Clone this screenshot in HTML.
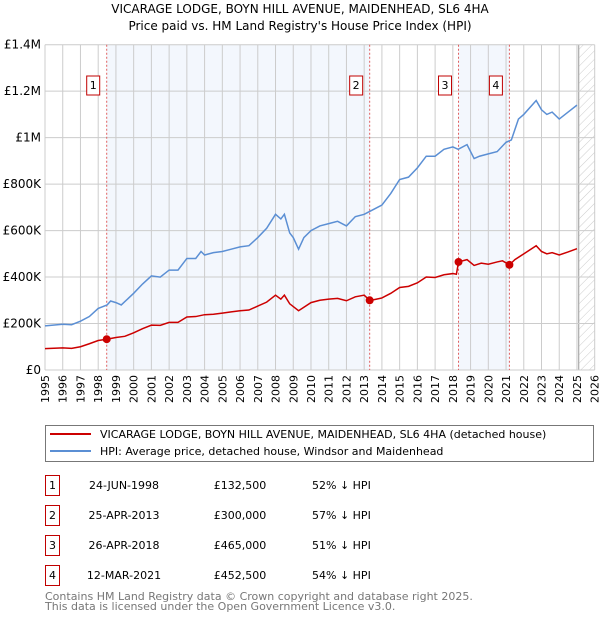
<!DOCTYPE html>
<html><head><meta charset="utf-8"><style>
body{margin:0;background:#fff;font-family:"DejaVu Sans","Liberation Sans",sans-serif;}
svg text{font-family:"DejaVu Sans","Liberation Sans",sans-serif;}
</style></head><body>
<svg id="chart" width="600" height="620" xmlns="http://www.w3.org/2000/svg">
<defs><pattern id="hatch" width="6" height="6" patternUnits="userSpaceOnUse" patternTransform="rotate(45)"><line x1="0" y1="0" x2="0" y2="6" stroke="#ccc" stroke-width="1"/></pattern></defs>
<text x="300" y="13" text-anchor="middle" font-size="12">VICARAGE LODGE, BOYN HILL AVENUE, MAIDENHEAD, SL6 4HA</text>
<text x="300" y="30" text-anchor="middle" font-size="12">Price paid vs. HM Land Registry's House Price Index (HPI)</text>
<g id="plot"></g>
<g>
<rect x="45.5" y="425.5" width="548" height="36" fill="#fff" stroke="#777"/>
<line x1="50" y1="434" x2="91" y2="434" stroke="#cc0000" stroke-width="2"/>
<text x="100" y="438" font-size="11">VICARAGE LODGE, BOYN HILL AVENUE, MAIDENHEAD, SL6 4HA (detached house)</text>
<line x1="50" y1="451" x2="91" y2="451" stroke="#5b8fd4" stroke-width="2"/>
<text x="100" y="455" font-size="11">HPI: Average price, detached house, Windsor and Maidenhead</text>
</g>
<g id="table"></g>
<text x="45" y="600" font-size="11" fill="#777">Contains HM Land Registry data © Crown copyright and database right 2025.</text>
<text x="45" y="610" font-size="11" fill="#777">This data is licensed under the Open Government Licence v3.0.</text>
</svg>
<script>
const hpiYears=[1995,1996,1996.5,1997,1997.5,1998,1998.5,1998.7,1999,1999.3,2000,2000.5,2001,2001.5,2002,2002.5,2003,2003.5,2003.8,2004,2004.5,2005,2005.5,2006,2006.5,2007,2007.5,2008,2008.3,2008.5,2008.8,2009,2009.3,2009.6,2010,2010.5,2011,2011.5,2012,2012.5,2013,2013.5,2014,2014.5,2015,2015.5,2016,2016.5,2017,2017.5,2018,2018.3,2018.8,2019.2,2019.5,2020,2020.5,2021,2021.3,2021.7,2022,2022.7,2023,2023.3,2023.6,2024,2024.5,2025];
const hpiValues=[190,197,195,210,230,265,280,297,290,280,330,370,405,400,430,430,480,480,510,495,505,510,520,530,535,570,610,670,650,670,590,570,520,570,600,620,630,640,620,660,670,690,710,760,820,830,870,920,920,950,960,950,970,910,920,930,940,980,990,1080,1100,1160,1120,1100,1110,1080,1110,1140];
const redYears=[1995,1996,1996.5,1997,1997.5,1998,1998.48,1999,1999.5,2000,2000.5,2001,2001.5,2002,2002.5,2003,2003.5,2004,2004.5,2005,2005.5,2006,2006.5,2007,2007.5,2008,2008.3,2008.5,2008.8,2009.3,2009.6,2010,2010.5,2011,2011.5,2012,2012.5,2013,2013.31,2013.5,2014,2014.5,2015,2015.5,2016,2016.5,2017,2017.5,2018,2018.2,2018.32,2018.8,2019.2,2019.6,2020,2020.5,2020.8,2021.19,2021.5,2022,2022.7,2023,2023.3,2023.6,2024,2024.5,2025];
const redValues=[92,95,93,100,113,127,132.5,140,145,160,178,193,192,205,205,228,230,238,240,245,250,255,258,275,292,322,305,322,285,255,270,290,300,305,308,298,315,322,300,302,310,330,355,360,375,400,398,410,415,412,465,475,450,460,455,465,470,452.5,475,500,535,510,500,505,495,508,522];
const saleLabels=["1","2","3","4"];
const saleYears=[1998.48,2013.31,2018.32,2021.19];
const saleValues=[132.5,300,465,452.5];
const saleDates=["24-JUN-1998","25-APR-2013","26-APR-2018","12-MAR-2021"];
const salePrices=["£132,500","£300,000","£465,000","£452,500"];
const saleDiffs=["52% ↓ HPI","57% ↓ HPI","51% ↓ HPI","54% ↓ HPI"];
const yTicks=[0,200,400,600,800,1000,1200,1400];
const yTickLabels=["£0","£200K","£400K","£600K","£800K","£1M","£1.2M","£1.4M"];
const xTicks=[1995,1996,1997,1998,1999,2000,2001,2002,2003,2004,2005,2006,2007,2008,2009,2010,2011,2012,2013,2014,2015,2016,2017,2018,2019,2020,2021,2022,2023,2024,2025,2026];

const NS="http://www.w3.org/2000/svg";
const L=45,R=594.7,T=44.7,B=370;
const X=y=>L+(y-1995)/31*(R-L);
const Y=v=>B-v/1400*(B-T);
function mk(tag,attrs,parent){const e=document.createElementNS(NS,tag);for(const k in attrs)e.setAttribute(k,attrs[k]);parent.appendChild(e);return e;}
const g=document.getElementById('plot');
for(const [a,b] of [[0,1],[2,3]]){
 const r=mk('rect',{x:X(saleYears[a]),y:T,width:X(saleYears[b])-X(saleYears[a]),height:B-T,fill:'#eef3fc',opacity:0.7},g);
 
 
}
const hz=mk('rect',{x:X(2025.1),y:T,width:R-X(2025.1),height:B-T,fill:'url(#hatch)'},g);


mk('line',{x1:X(2025.1),y1:T,x2:X(2025.1),y2:B,stroke:'#999','stroke-width':1},g);
xTicks.forEach(t=>{
 const l=mk('line',{x1:X(t),y1:T,x2:X(t),y2:B,stroke:'#ccc','stroke-width':1},g);
 
 
 const tx=mk('text',{x:X(t)+4,y:B+5,'font-size':11,transform:`rotate(-90 ${X(t)+4} ${B+5})`,'text-anchor':'end'},g);
 tx.textContent=t;
 
 
});
yTicks.forEach((t,i)=>{
 const l=mk('line',{x1:L,y1:Y(t),x2:R,y2:Y(t),stroke:'#ccc','stroke-width':1},g);
 
 
 const tx=mk('text',{x:L-4,y:Y(t)+4,'font-size':12,'text-anchor':'end'},g);
 tx.textContent=yTickLabels[i];
 
 
});
saleYears.forEach((s,i)=>{
 const l=mk('line',{x1:X(s),y1:T,x2:X(s),y2:B,stroke:'#e06060','stroke-width':1,'stroke-dasharray':'2,2'},g);
 
 
 const bx=mk('rect',{x:X(s)-20,y:76,width:13,height:19,fill:'#fff',stroke:'#c00000'},g);
 
 
 const tx=mk('text',{x:X(s)-13.5,y:89,'font-size':11,'text-anchor':'middle'},g);
 tx.textContent=saleLabels[i];
});
const hp=mk('polyline',{points:hpiYears.map((y,i)=>X(y)+','+Y(hpiValues[i])).join(' '),fill:'none',stroke:'#5b8fd4','stroke-width':1.5},g);


const rp=mk('polyline',{points:redYears.map((y,i)=>X(y)+','+Y(redValues[i])).join(' '),fill:'none',stroke:'#cc0000','stroke-width':1.5},g);


saleYears.forEach((s,i)=>{
 const c=mk('circle',{cx:X(s),cy:Y(saleValues[i]),r:4,fill:'#cc0000'},g);
 
 
});
const tb=document.getElementById('table');
saleLabels.forEach((lab,i)=>{
 const y0=475+i*30;
 const r=mk('rect',{x:45.5,y:y0+0.5,width:14,height:20,fill:'#fff',stroke:'#c00000'},tb);
 
 
 const cells=[[52.5,lab,'middle'],[124,saleDates[i],'middle'],[240,salePrices[i],'middle'],[312,saleDiffs[i],'start']];
 cells.forEach(c=>{const t=mk('text',{x:c[0],y:y0+14,'font-size':11,'text-anchor':c[2]},tb);t.textContent=c[1];});
});
</script>
</body></html>
